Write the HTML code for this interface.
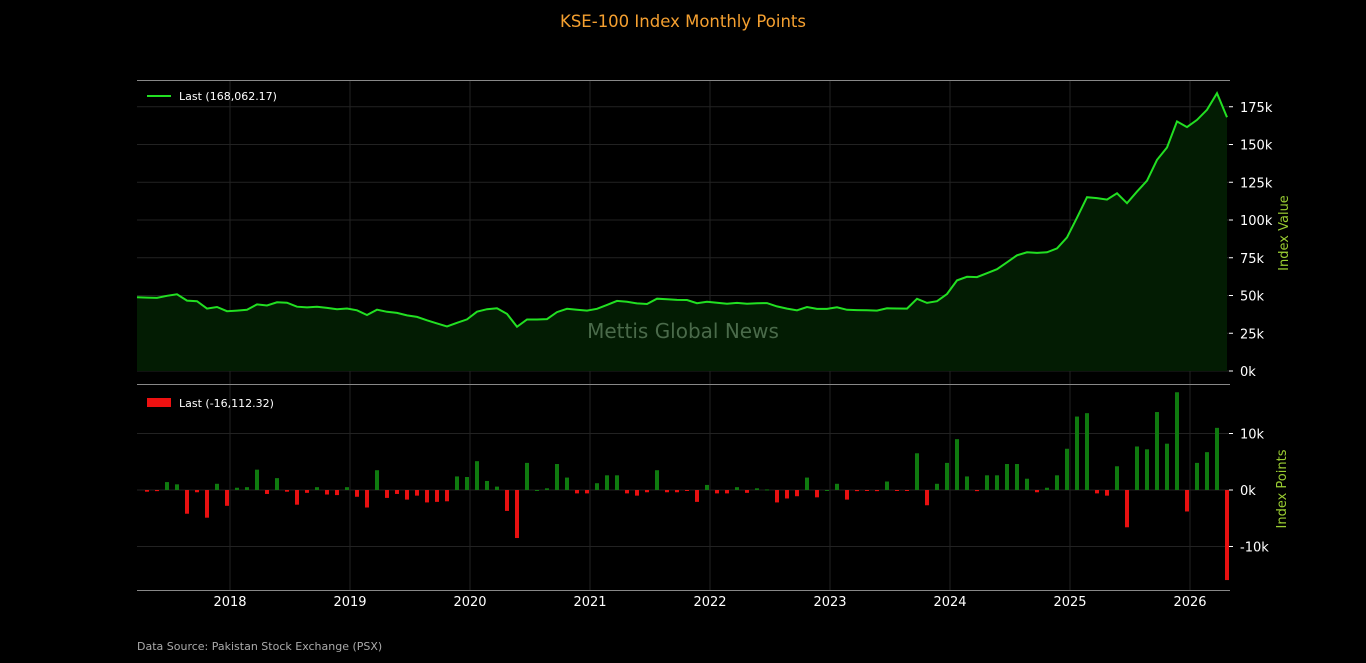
<!DOCTYPE html>
<html><head><meta charset="utf-8"><style>
html,body{margin:0;padding:0;background:#000;}
svg{display:block;font-family:"DejaVu Sans","Liberation Sans",sans-serif;}
</style></head><body>
<svg id="c" width="1366" height="663" xmlns="http://www.w3.org/2000/svg">
<rect width="1366" height="663" fill="#000"/>
<text x="683" y="27" fill="#f5a030" font-size="16.5" text-anchor="middle">KSE-100 Index Monthly Points</text>
<g id="grid"></g>
<path id="fill" fill="#031c03"/>
<polyline id="line" fill="none" stroke="#22e022" stroke-width="2"/>
<g id="bars"></g>
<text x="683" y="338" fill="#4a6a4a" font-size="20" text-anchor="middle">Mettis Global News</text>
<line x1="137" y1="80.5" x2="1230" y2="80.5" stroke="#888" stroke-width="1"/>
<line x1="137" y1="384.5" x2="1230" y2="384.5" stroke="#888" stroke-width="1"/>
<line x1="137" y1="590.5" x2="1230" y2="590.5" stroke="#888" stroke-width="1"/>
<line x1="147" y1="96" x2="171" y2="96" stroke="#22e022" stroke-width="2"/>
<text x="179" y="100" fill="#fff" font-size="11">Last (168,062.17)</text>
<rect x="147" y="398" width="24" height="9" fill="#ee1111"/>
<text x="179" y="407" fill="#fff" font-size="11">Last (-16,112.32)</text>
<g id="labels" fill="#fff" font-size="13"></g>
<text transform="translate(1288,233) rotate(-90)" fill="#9acd32" font-size="13" text-anchor="middle">Index Value</text>
<text transform="translate(1286,489) rotate(-90)" fill="#9acd32" font-size="13" text-anchor="middle">Index Points</text>
<text x="137" y="650" fill="#aaa" font-size="11">Data Source: Pakistan Stock Exchange (PSX)</text>
</svg>
<script>
var v=[48.9,48.6,48.4,49.8,50.8,46.6,46.2,41.3,42.4,39.6,40.0,40.5,44.1,43.4,45.5,45.2,42.6,42.1,42.6,41.8,40.9,41.4,40.2,37.1,40.6,39.2,38.5,36.8,35.8,33.6,31.5,29.5,31.9,34.2,39.3,40.9,41.5,37.8,29.3,34.1,34.1,34.4,39.0,41.2,40.6,40.0,41.2,43.8,46.4,45.8,44.8,44.4,47.9,47.5,47.1,47.0,44.9,45.8,45.2,44.6,45.1,44.6,44.9,45.0,42.8,41.3,40.2,42.4,41.1,41.1,42.2,40.5,40.3,40.2,40.0,41.5,41.4,41.3,47.8,45.1,46.2,51.0,60.0,62.4,62.2,64.8,67.4,72,76.6,78.6,78.2,78.6,81.2,88.5,101.5,115.1,114.5,113.5,117.7,111.1,118.8,126,139.8,148,165.3,161.5,166.3,173,184,168.06];
var NS="http://www.w3.org/2000/svg";
function el(t,a,p){var e=document.createElementNS(NS,t);for(var k in a)e.setAttribute(k,a[k]);if(p)document.getElementById(p).appendChild(e);return e;}
function X(i){return 137+10*i;}
function Y(val){return 371-val*37.75/25;}
function B(val){return 490-val*5.65;}
var pts=[],i;
for(i=0;i<v.length;i++)pts.push(X(i).toFixed(1)+","+Y(v[i]).toFixed(1));
document.getElementById("line").setAttribute("points",pts.join(" "));
document.getElementById("fill").setAttribute("d","M137,371 L"+pts.join(" L")+" L"+X(v.length-1)+",371 Z");
for(var yr=2018;yr<=2026;yr++){var gx=230+(yr-2018)*120;
 el("line",{x1:gx,y1:81,x2:gx,y2:590,stroke:"#222","stroke-width":1},"grid");
 var t=el("text",{x:gx,y:606,"text-anchor":"middle"},"labels");t.textContent=yr;}
for(i=0;i<=7;i++){var gy=Y(i*25);
 el("line",{x1:137,y1:gy,x2:1229,y2:gy,stroke:"#222"},"grid");
 el("line",{x1:1229,y1:gy,x2:1233,y2:gy,stroke:"#fff"},"grid");
 var t=el("text",{x:1240,y:gy+5},"labels");t.textContent=(i*25)+"k";}
[[10,"10k"],[0,"0k"],[-10,"-10k"]].forEach(function(a){var gy=B(a[0]);
 el("line",{x1:137,y1:gy,x2:1229,y2:gy,stroke:"#222"},"grid");
 el("line",{x1:1229,y1:gy,x2:1233,y2:gy,stroke:"#fff"},"grid");
 var t=el("text",{x:1240,y:gy+5},"labels");t.textContent=a[1];});
for(i=1;i<v.length;i++){var d=v[i]-v[i-1];var y0=B(0),y1=B(d);
 el("rect",{x:X(i)-2,y:Math.min(y0,y1),width:4,height:Math.max(1,Math.abs(y1-y0)),fill:d>=0?"#0f7a0f":"#e81010"},"bars");}
</script>
</body></html>
